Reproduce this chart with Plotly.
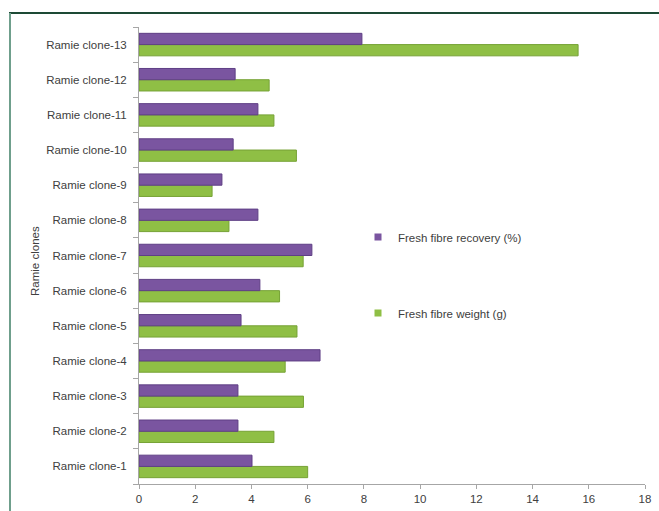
import plotly.graph_objects as go

categories = [f"Ramie clone-{i}" for i in range(1, 14)]
fibre_weight = [6.0, 4.8, 5.85, 5.2, 5.62, 5.0, 5.84, 3.2, 2.6, 5.6, 4.8, 4.63, 15.62]
fibre_recovery = [4.02, 3.52, 3.52, 6.44, 3.63, 4.3, 6.15, 4.23, 2.95, 3.35, 4.23, 3.42, 7.93]
x_ticks = list(range(0, 20, 2))

W, H = 659, 511
L, R, T, B = 139, 645, 27, 484

def px(x):
    return (x - L) / (R - L)

def py(y):
    return (B - y) / (B - T)

font = "Liberation Sans"
txt = "#404040"
purple = "#7a55a0"
green = "#8fbf45"
fs = 11.5

fig = go.Figure()
fig.add_trace(go.Bar(
    y=categories, x=fibre_weight, orientation="h", name="Fresh fibre weight (g)",
    marker=dict(color=green, line=dict(color="#76a235", width=1)),
    showlegend=False,
))
fig.add_trace(go.Bar(
    y=categories, x=fibre_recovery, orientation="h", name="Fresh fibre recovery (%)",
    marker=dict(color=purple, line=dict(color="#5f3f85", width=1)),
    showlegend=False,
))
# legend entries with small square symbols
fig.add_trace(go.Scatter(x=[None], y=[None], mode="markers", name="Fresh fibre recovery (%)",
                         marker=dict(symbol="square", size=7, color=purple), legend="legend"))
fig.add_trace(go.Scatter(x=[None], y=[None], mode="markers", name="Fresh fibre weight (g)",
                         marker=dict(symbol="square", size=7, color=green), legend="legend2"))

fig.update_layout(
    width=W, height=H,
    margin=dict(l=L, r=W - R, t=T, b=H - B, pad=0, autoexpand=False),
    paper_bgcolor="white", plot_bgcolor="white",
    barmode="group", bargap=0.36, bargroupgap=0.0,
    font=dict(family=font, size=fs, color=txt),
    xaxis=dict(range=[0, 18], tickvals=x_ticks, showgrid=False, zeroline=False,
               showline=True, linecolor="#a6a6a6", linewidth=1, automargin=False,
               ticks="outside", ticklen=4, tickcolor="#a6a6a6",
               tickfont=dict(family=font, size=fs, color=txt)),
    yaxis=dict(categoryorder="array", categoryarray=categories, showgrid=False,
               zeroline=False, showline=True, linecolor="#a6a6a6", linewidth=1,
               automargin=False,
               ticks="outside", ticklen=5, tickcolor="#a6a6a6", tickson="boundaries",
               ticklabelstandoff=9,
               tickfont=dict(family=font, size=fs, color=txt)),
    legend=dict(x=px(358), y=py(237), xanchor="left", yanchor="middle",
                bgcolor="rgba(0,0,0,0)", font=dict(family=font, size=fs, color=txt),
                itemwidth=30),
    legend2=dict(x=px(358), y=py(313), xanchor="left", yanchor="middle",
                 bgcolor="rgba(0,0,0,0)", font=dict(family=font, size=fs, color=txt),
                 itemwidth=30),
)

fig.add_annotation(text="Ramie clones", xref="paper", yref="paper",
                   x=px(35), y=py(261), showarrow=False, textangle=-90,
                   xanchor="center", yanchor="middle",
                   font=dict(family=font, size=fs, color=txt))

# chart frame
fig.add_shape(type="line", xref="paper", yref="paper",
              x0=px(9), x1=px(659), y0=py(13), y1=py(13),
              line=dict(color="#1d4a35", width=2))
fig.add_shape(type="line", xref="paper", yref="paper",
              x0=px(10), x1=px(10), y0=py(13), y1=py(511),
              line=dict(color="#6f9f8c", width=2))

fig.write_html("out.html")
